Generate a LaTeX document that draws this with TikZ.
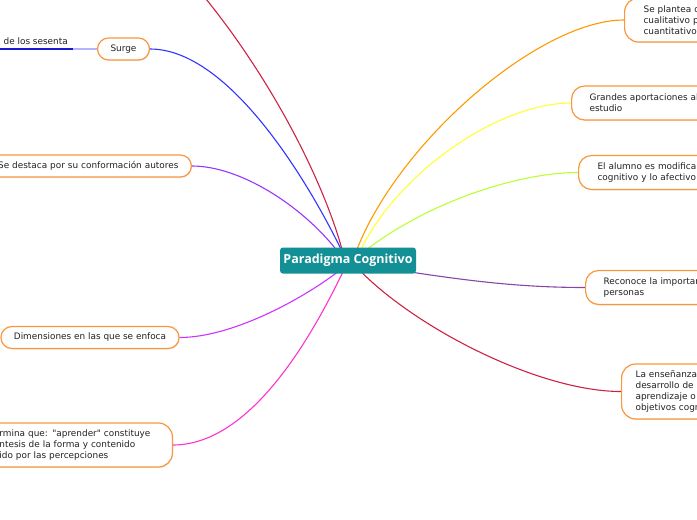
\documentclass[tikz,border=0pt]{standalone}
\usepackage{fontspec}
\setmainfont{DejaVu Sans}
\newfontfamily\leaffont{DejaVu Sans}
\newfontfamily\titlefont{Open Sans}
\usetikzlibrary{backgrounds,calc,shadows}

\definecolor{nodeorange}{RGB}{250,150,60}
\definecolor{centerteal}{RGB}{19,143,150}
\definecolor{topred}{RGB}{204,34,68}
\definecolor{surgeblue}{RGB}{51,51,255}
\definecolor{sesdark}{RGB}{26,26,210}
\definecolor{seslight}{RGB}{180,180,255}
\definecolor{destpurple}{RGB}{153,51,255}
\definecolor{dimviolet}{RGB}{204,51,255}
\definecolor{detpink}{RGB}{255,51,204}
\definecolor{lorange}{RGB}{255,153,0}
\definecolor{lyellow}{RGB}{255,255,51}
\definecolor{llime}{RGB}{187,255,51}
\definecolor{rpurple}{RGB}{136,68,170}
\definecolor{crimson}{RGB}{204,34,68}
\definecolor{leaftext}{RGB}{34,34,34}

\begin{document}
\begin{tikzpicture}[x=1pt,y=-1pt,
  leaf/.style={draw=nodeorange, line width=1.2pt, fill=white, text=leaftext,
    rounded corners=11pt, font=\leaffont\fontsize{8.9}{11}\selectfont,
    inner ysep=2pt, inner xsep=13pt, minimum height=22pt,
    drop shadow={opacity=0.15,shadow xshift=0.8pt,shadow yshift=-1pt}},
  leaf2/.style={leaf, minimum height=34pt, rounded corners=13pt},
  leaf3/.style={leaf, minimum height=44pt, rounded corners=14pt},
  leaf4/.style={leaf, minimum height=55pt, rounded corners=14pt},
  link/.style={line width=1.1pt},
  center/.style={fill=centerteal, rounded corners=3pt, minimum width=136pt,
    minimum height=26pt, text=white, inner sep=0pt,
    font=\titlefont\bfseries\fontsize{12.5}{14}\selectfont}]
\useasboundingbox (0,0) rectangle (697,520);
\clip (0,0) rectangle (697,520);

% centre
\node[center] (c) at (348,260.5) {Paradigma Cognitivo};

% left side
\node[leaf] (surge) at (123.5,49) {Surge};
\node[anchor=base east, inner sep=0pt, text=leaftext, font=\leaffont\fontsize{8.9}{11}\selectfont] (ses) at (68,44) {de los sesenta};
\coordinate (sesR) at (73,49);
\node[leaf, anchor=east, text width=250pt, align=right] (dest) at (192,166) {Se destaca por su conformación autores};
\node[leaf] (dim) at (90,337.5) {Dimensiones en las que se enfoca};
\node[leaf3, anchor=east, text width=160pt, align=left] (det) at (173,445)
  {rmina que: "aprender" constituye\\ntesis de la forma y contenido\\ido por las percepciones};

% right side
\node[leaf3, anchor=west, text width=250pt, align=left, inner xsep=19pt] (plan) at (624,20)
  {Se plantea d\\cualitativo p\\cuantitativo};
\node[leaf2, anchor=west, text width=250pt, align=left, inner xsep=18pt] (gran) at (571,103)
  {Grandes aportaciones al\\estudio};
\node[leaf2, anchor=west, text width=250pt, align=left, inner xsep=19pt] (alum) at (578,172.5)
  {El alumno es modifica\\cognitivo y lo afectivo};
\node[leaf2, anchor=west, text width=250pt, align=left, inner xsep=18pt] (reco) at (585,287.5)
  {Reconoce la importan\\personas};
\node[leaf4, anchor=west, text width=250pt, align=left, inner xsep=14pt] (ens) at (621,391.5)
  {La enseñanza\\desarrollo de\\aprendizaje o\\objetivos cogn};

\coordinate (toppt) at (190,-20);

\begin{pgfonlayer}{background}
  \draw[link, topred] (toppt) .. controls (260,60) and (320,170) .. ($(c.north)+(-6,2)$);
  \draw[link, surgeblue] (surge.east) .. controls +(80,0) and +(-31,-64) .. ($(c.north)+(-7,2)$);
  \draw[link, seslight] (surge.west) -- (sesR);
  \draw[line width=1.3pt, sesdark] (sesR) -- ++(-80,0);
  \draw[link, destpurple] (dest.east) .. controls +(48,0) and +(-35,-44) .. ($(c.north)+(-12,2)$);
  \draw[link, dimviolet] (dim.east) .. controls +(51,0) and +(-38,29) .. ($(c.south)+(-10,-2)$);
  \draw[link, detpink] (det.east) .. controls +(80,0) and +(-28,58) .. ($(c.south)+(-5,-2)$);
  \draw[link, lorange] (plan.west) .. controls +(-84,0) and +(43,-109) .. ($(c.north)+(9,2)$);
  \draw[link, lyellow] (gran.west) .. controls +(-71,0) and +(39,-79) .. ($(c.north)+(13,2)$);
  \draw[link, llime] (alum.west) .. controls +(-59,0) and +(63,-48) .. ($(c.north)+(19,2)$);
  \draw[link, rpurple] (reco.west) .. controls +(-65,0) and +(60,9) .. ($(c.south east)+(-8,-2)$);
  \draw[link, crimson] (ens.west) .. controls +(-80,0) and +(59,59) .. ($(c.south)+(13,-2)$);
\end{pgfonlayer}
\end{tikzpicture}
\end{document}
